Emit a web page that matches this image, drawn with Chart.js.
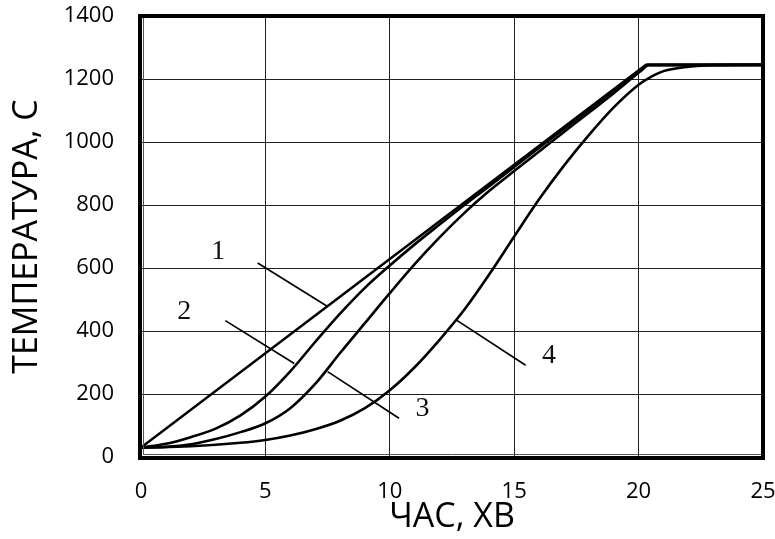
<!DOCTYPE html>
<html lang="uk">
<head>
<meta charset="UTF-8" />
<title>Температура</title>
<script src="https://cdn.jsdelivr.net/npm/chart.js"></script>
<style>
  html, body { margin: 0; padding: 0; background: #fff; }
  #wrap { width: 775px; height: 539px; }
</style>
</head>
<body>
<div id="wrap"><canvas id="tempChart"></canvas></div>
<script>
// curve data: time (min) / temperature
const t1 = [0, 20.3, 25];
const y1 = [30, 1245, 1245];

const t2 = [0, 1, 2, 3, 4, 5, 6, 7, 8, 9, 10, 11, 12, 13, 14, 16, 18, 19.2, 20.1, 20.35, 25];
const y2 = [30, 42, 63, 90, 132, 192, 272, 365, 455, 537, 608, 675, 738, 800, 860, 982, 1102, 1176, 1231, 1245, 1245];

const t3 = [0, 1, 2, 3, 4, 5, 6, 7, 8, 9, 10, 11, 12, 13, 14, 15, 16, 17, 18, 19, 20.1, 20.4, 25];
const y3 = [30, 32, 40, 57, 79, 107, 155, 232, 330, 425, 520, 612, 697, 775, 845, 908, 970, 1032, 1093, 1155, 1226, 1244, 1245];

const t4 = [0, 2, 4, 5, 6, 7, 8, 9, 10, 11, 12, 13, 14, 15, 16, 17, 18, 19, 20, 20.5, 21, 22, 23, 25];
const y4 = [30, 34, 45, 54, 68, 88, 115, 155, 212, 285, 372, 468, 580, 700, 818, 925, 1022, 1110, 1182, 1207, 1225, 1239, 1244, 1245];

// curve labels and their leader lines
const labelText = ["1", "2", "3", "4"];
const labelX = [3.1, 1.74, 11.31, 16.4];
const labelY = [651, 460, 154, 323];
const leaderX = [[4.69, 7.5], [3.39, 6.16], [7.5, 10.37], [12.65, 15.46]];
const leaderY = [[616, 478], [433, 297], [271, 123], [436, 291]];

const xTicks = [0, 5, 10, 15, 20, 25];
const yTicks = [0, 200, 400, 600, 800, 1000, 1200, 1400];

function pts(xs, ys) {
    return xs.map((x, i) => ({ x: x, y: ys[i] }));
}

const curveStyle = {
    borderColor: "#000",
    borderWidth: 2.6,
    pointRadius: 0,
    fill: false,
    cubicInterpolationMode: "monotone",
};

const datasets = [
    Object.assign({}, curveStyle, { label: "1", data: pts(t1, y1), cubicInterpolationMode: "default", tension: 0 }),
    Object.assign({}, curveStyle, { label: "2", data: pts(t2, y2) }),
    Object.assign({}, curveStyle, { label: "3", data: pts(t3, y3) }),
    Object.assign({}, curveStyle, { label: "4", data: pts(t4, y4) }),
];
for (let i = 0; i < leaderX.length; i++) {
    datasets.push({
        label: "leader" + (i + 1),
        data: pts(leaderX[i], leaderY[i]),
        borderColor: "#000",
        borderWidth: 1.7,
        pointRadius: 0,
        tension: 0,
        fill: false,
    });
}

const frame = {
    id: "frame",
    afterDraw(chart) {
        const { ctx, chartArea: a } = chart;
        ctx.save();
        ctx.strokeStyle = "#000";
        ctx.lineWidth = 4;
        ctx.strokeRect(a.left - 1, a.top, a.right - a.left + 1, a.bottom - a.top + 1);
        ctx.lineWidth = 1;
        ctx.strokeStyle = "#555";
        ctx.beginPath();
        ctx.moveTo(a.left + 2.5, a.top + 2);
        ctx.lineTo(a.left + 2.5, a.bottom - 2.5);
        ctx.lineTo(a.right - 2, a.bottom - 2.5);
        ctx.stroke();
        ctx.restore();
    },
};

const curveLabels = {
    id: "curveLabels",
    afterDatasetsDraw(chart) {
        const { ctx, scales } = chart;
        ctx.save();
        ctx.fillStyle = "#111";
        ctx.font = '28px "Liberation Serif"';
        ctx.textAlign = "center";
        ctx.textBaseline = "middle";
        for (let i = 0; i < labelText.length; i++) {
            ctx.fillText(labelText[i], scales.x.getPixelForValue(labelX[i]), scales.y.getPixelForValue(labelY[i]));
        }
        ctx.restore();
    },
};

function noOverhang(s) {
    s.paddingLeft = 0;
    s.paddingRight = 0;
    s.paddingTop = 0;
    s.paddingBottom = 0;
}

const tickFont = { family: "Open Sans", size: 22 };
const titleFont = { family: "Open Sans", size: 34, lineHeight: 1.2 };

new Chart(document.getElementById("tempChart"), {
    type: "line",
    data: { datasets: datasets },
    options: {
        responsive: true,
        maintainAspectRatio: false,
        animation: false,
        layout: { padding: { top: 16, right: 12, left: 0, bottom: 0 } },
        plugins: { legend: { display: false }, tooltip: { enabled: false } },
        scales: {
            x: {
                type: "linear",
                min: 0,
                max: 25,
                afterBuildTicks: (s) => { s.ticks = xTicks.map((v) => ({ value: v })); },
                afterFit: (s) => { s.height = 82; noOverhang(s); },
                ticks: { color: "#000", font: tickFont, padding: 22, maxRotation: 0, callback: (v) => String(v) },
                grid: { color: "#222", lineWidth: 1, drawTicks: false },
                border: { display: false },
                title: { display: true, text: "ЧАС, ХВ", color: "#000", font: titleFont, padding: { top: 0, bottom: 1 } },
            },
            y: {
                min: 0,
                max: 1400,
                afterBuildTicks: (s) => { s.ticks = yTicks.map((v) => ({ value: v })); },
                afterFit: (s) => { s.width = 141; noOverhang(s); },
                ticks: { color: "#000", font: tickFont, padding: 27, callback: (v) => String(v) },
                grid: { color: "#222", lineWidth: 1, drawTicks: false },
                border: { display: false },
                title: { display: true, text: "ТЕМПЕРАТУРА, С", color: "#000", font: titleFont, padding: { top: 7, bottom: 0 } },
            },
        },
    },
    plugins: [frame, curveLabels],
});
</script>
</body>
</html>
